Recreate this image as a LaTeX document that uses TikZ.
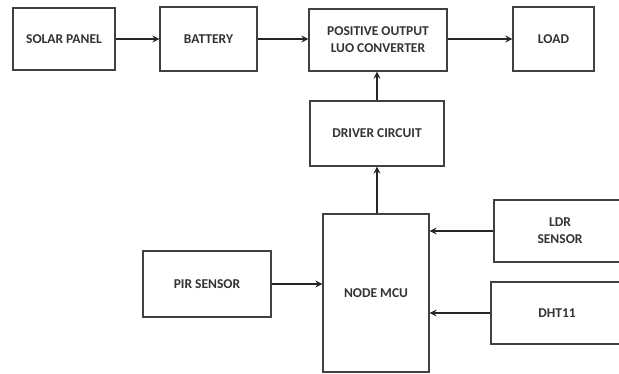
\documentclass[tikz,border=0pt]{standalone}
\usepackage{fontspec}
\setmainfont{Carlito}
\usetikzlibrary{arrows.meta}
\begin{document}
\begin{tikzpicture}[x=1pt,y=-1pt,
  blk/.style={draw=black!75,line width=1.2pt,rectangle,inner sep=2pt,align=center,font=\fontsize{13.5}{17}\selectfont\bfseries,text=black!80},
  conn/.style={line width=2pt,draw=black!85,-{Stealth[length=7pt,width=7pt]}}]
\fill[white] (0,0) rectangle (619,373);
\clip (0,0) rectangle (619,373);
\node[blk,minimum width=102pt,minimum height=62pt] (solar) at (64,39) {SOLAR PANEL};
\node[blk,minimum width=97pt,minimum height=64pt] (battery) at (208.5,39) {BATTERY};
\node[blk,minimum width=138pt,minimum height=62pt] (luo) at (378,40) {POSITIVE OUTPUT\\LUO CONVERTER};
\node[blk,minimum width=81pt,minimum height=64pt] (load) at (553.5,39) {LOAD};
\node[blk,minimum width=134pt,minimum height=65pt] (driver) at (377,133.5) {DRIVER CIRCUIT};
\node[blk,minimum width=106pt,minimum height=158pt] (mcu) at (376,293) {NODE MCU};
\node[blk,minimum width=132pt,minimum height=62pt] (ldr) at (560,231) {LDR\\SENSOR};
\node[blk,minimum width=132pt,minimum height=62pt] (dht) at (557,313) {DHT11};
\node[blk,minimum width=128pt,minimum height=66pt] (pir) at (207,284) {PIR SENSOR};
\draw[conn] (solar.east) -- (solar.east -| battery.west);
\draw[conn] (battery.east) -- (battery.east -| luo.west);
\draw[conn] (luo.east |- load.west) -- (load.west);
\draw[conn] (driver.north) -- (driver.north |- luo.south);
\draw[conn] (driver.south |- mcu.north) -- (driver.south);
\draw[conn] (ldr.west) -- (ldr.west -| mcu.east);
\draw[conn] (dht.west) -- (dht.west -| mcu.east);
\draw[conn] (pir.east) -- (pir.east -| mcu.west);
\end{tikzpicture}
\end{document}
